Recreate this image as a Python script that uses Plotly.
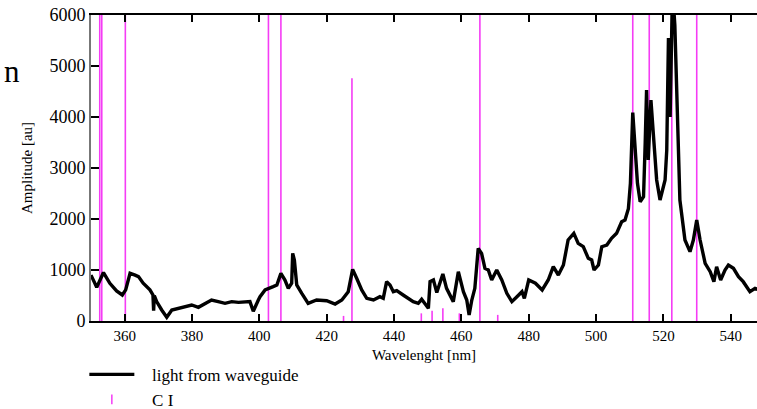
import plotly.graph_objects as go

# ---- data ----
wl = [350.0, 351.7, 353.7, 355.6, 357.6, 359.3, 360.3, 361.6, 363.1, 364.1, 365.5, 367.5,
      368.4, 368.6, 368.8, 369.5, 371.0, 372.5, 374.0, 376.0, 377.9, 379.9, 381.9, 383.9,
      385.8, 387.8, 389.8, 391.8, 393.8, 397.2, 398.2, 399.7, 400.2, 401.7, 402.2, 404.1,
      405.2, 406.4, 407.6, 408.6, 409.6, 409.9, 410.4, 411.1, 412.6, 414.5, 417.0, 420.0,
      422.5, 424.5, 426.4, 427.7, 428.9, 430.4, 431.9, 433.9, 435.8, 436.8, 437.8, 438.8,
      439.8, 440.8, 442.7, 445.7, 447.2, 448.2, 450.2, 450.7, 451.7, 452.7, 454.5, 455.6,
      457.6, 459.1, 460.6, 461.6, 462.3, 463.1, 464.0, 465.0, 466.0, 467.0, 468.0, 469.0,
      470.5, 472.0, 473.5, 475.0, 476.5, 478.0, 478.7, 480.0, 482.0, 484.0, 485.8, 487.3,
      488.8, 490.3, 491.7, 493.4, 494.7, 496.2, 497.7, 498.7, 499.4, 500.7, 501.7, 503.2,
      504.6, 506.1, 507.6, 508.6, 509.6, 510.2, 510.9, 511.6, 512.3, 513.1, 514.1, 514.6,
      515.0, 515.5, 516.3, 517.0, 518.0, 519.0, 520.5, 521.0, 521.5, 522.0, 522.7, 523.4,
      524.9, 526.4, 527.9, 528.9, 529.9, 530.9, 532.4, 533.9, 535.0, 535.8, 537.0, 538.3,
      539.3, 540.8, 542.3, 543.7, 545.7, 547.2, 548.0]
amp = [900, 660, 950, 740, 590, 510, 610, 935, 900, 870, 740, 610,
       510, 200, 500, 380, 216, 72, 216, 250, 268, 314, 268, 333,
       412, 380, 347, 380, 366, 380, 190, 412, 477, 610, 620, 674,
       706, 935, 804, 640, 740, 1327, 1196, 706, 543, 347, 412, 398,
       333, 412, 575, 1013, 837, 608, 445, 412, 477, 445, 771, 706,
       575, 594, 510, 380, 347, 425, 249, 771, 804, 560, 922, 641,
       380, 967, 575, 412, 118, 412, 641, 1425, 1327, 1033, 1000, 804,
       1000, 804, 543, 380, 477, 575, 445, 804, 740, 608, 804, 1065,
       902, 1098, 1588, 1719, 1523, 1457, 1229, 1196, 1000, 1098, 1457, 1490,
       1621, 1719, 1947, 1980, 2200, 2700, 4085, 3483, 2699, 2339, 2437, 3500,
       4530, 3160, 4330, 3680, 2765, 2372, 2765, 3353, 5550, 4000, 6500, 5800,
       2372, 1588, 1359, 1588, 1980, 1588, 1131, 967, 771, 1065, 804, 1000,
       1098, 1033, 869, 771, 575, 641, 620]

ci_wl = [352.6, 353.2, 360.2, 402.7, 406.4, 425.0, 427.5, 448.1, 451.3, 454.5, 459.4,
         465.5, 470.8, 510.9, 515.8, 522.5, 529.9]
ci_int = [8000, 8000, 8000, 8000, 8000, 100, 4760, 150, 200, 250, 150,
          8000, 120, 8000, 8000, 8000, 8000]

xticks = [360, 380, 400, 420, 440, 460, 480, 500, 520, 540]
yticks = [0, 1000, 2000, 3000, 4000, 5000, 6000]

# impulses built from the C I arrays
imp_x, imp_y = [], []
for w, h in zip(ci_wl, ci_int):
    imp_x += [w, w, None]
    imp_y += [0, h, None]

serif = "Liberation Serif"
mag = "rgb(245,60,245)"
pad = "\u00a0\u00a0\u00a0"

fig = go.Figure()
fig.add_trace(go.Scatter(x=imp_x, y=imp_y, mode="lines", line=dict(color=mag, width=1.6),
                         showlegend=False, hoverinfo="skip"))
fig.add_trace(go.Scatter(x=wl, y=amp, mode="lines", name=pad + "light from waveguide",
                         line=dict(color="black", width=3.4), legendgroup="a"))
fig.add_trace(go.Scatter(x=[None], y=[None], mode="markers", name=pad + "C I", legendgroup="b",
                         marker=dict(symbol="line-ns", size=7, line=dict(color=mag, width=1.5))))

fig.update_layout(
    width=757, height=409,
    margin=dict(l=91, r=0, t=15, b=88, autoexpand=False),
    paper_bgcolor="white", plot_bgcolor="white",
    font=dict(family=serif, color="black", size=15),
    showlegend=True,
    legend=dict(x=-0.01, y=-0.117, xanchor="left", yanchor="top",
                font=dict(size=17, family=serif),
                itemwidth=45, tracegroupgap=0, bgcolor="rgba(0,0,0,0)",
                traceorder="grouped"),
    annotations=[dict(text="n", x=-91 / 666 + 0.003, y=(321 - 71) / 306,
                      xref="paper", yref="paper", showarrow=False,
                      xanchor="left", yanchor="middle", font=dict(size=31, family=serif))],
)

fig.update_xaxes(range=[350, 547.8], tickvals=xticks, ticks="inside", ticklen=7,
                 tickcolor="black", tickwidth=1.5, showline=True, linecolor="black",
                 linewidth=1.5, mirror="ticks", showgrid=False, zeroline=False,
                 automargin=False,
                 tickfont=dict(size=15, family=serif),
                 title=dict(text="Wavelenght [nm]", font=dict(size=15, family=serif), standoff=7))
fig.update_yaxes(range=[0, 6000], tickvals=yticks, ticks="inside", ticklen=8,
                 tickcolor="black", tickwidth=1.5, showline=True, linecolor="#777777",
                 linewidth=2, showgrid=False, zeroline=False,
                 automargin=False,
                 tickfont=dict(size=18, family=serif),
                 title=dict(text="Amplitude [au]", font=dict(size=15, family=serif), standoff=13))

fig.write_html("out.html")
